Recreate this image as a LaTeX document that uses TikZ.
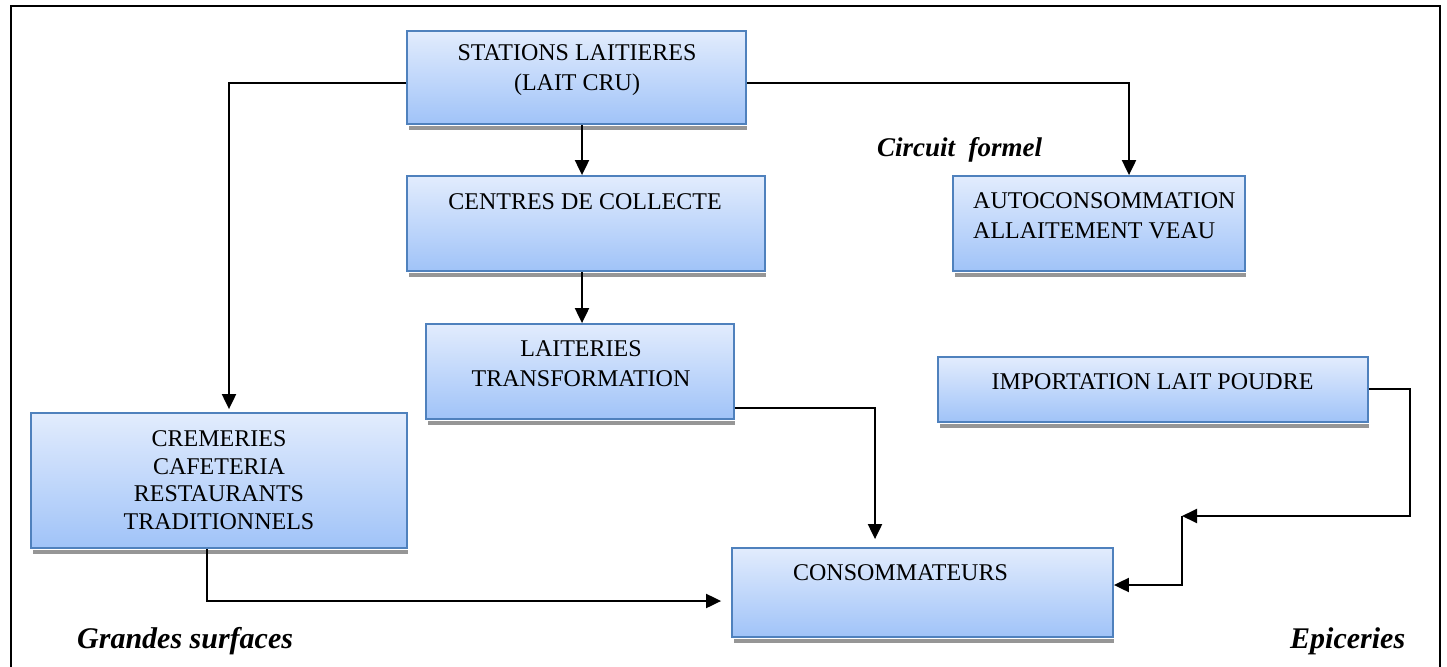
\documentclass[tikz,border=0pt]{standalone}
\usepackage{fontspec}
\setmainfont{Liberation Serif}
\usetikzlibrary{arrows.meta}
\definecolor{boxtop}{RGB}{226,236,253}
\definecolor{boxbot}{RGB}{160,195,248}
\definecolor{boxline}{RGB}{79,129,189}
\definecolor{shadowcol}{RGB}{150,150,150}
\tikzset{
  box/.style={draw=boxline, line width=1.8pt, top color=boxtop, bottom color=boxbot, rectangle, inner sep=0pt},
  txt/.style={inner sep=0pt, font=\fontsize{24}{30}\selectfont, align=center},
  lbl/.style={inner sep=0pt, font=\fontsize{29}{30}\selectfont\bfseries\itshape, anchor=base west},
  conn/.style={line width=2pt, -{Triangle[length=15pt,width=14pt]}},
  shad/.style={fill=shadowcol}
}
\begin{document}
\begin{tikzpicture}[x=1pt,y=-1pt]
\useasboundingbox (0,0) rectangle (1447,666);
% frame
\draw[line width=2pt] (11,668) -- (11,6) -- (1440,6) -- (1440,668);
% boxes
\node[box, minimum width=339pt, minimum height=93pt] (st) at (576.5,77.5) {};
\node[box, minimum width=358pt, minimum height=95pt] (ce) at (586,223.5) {};
\node[box, minimum width=308pt, minimum height=95pt] (la) at (580,371.5) {};
\node[box, minimum width=292pt, minimum height=95pt] (au) at (1099,223.5) {};
\node[box, minimum width=430pt, minimum height=65pt] (im) at (1153,389.5) {};
\node[box, minimum width=376pt, minimum height=135pt] (cr) at (219,480.5) {};
\node[box, minimum width=381pt, minimum height=89pt] (co) at (922.5,592.5) {};
% shadows
\foreach \b in {st,ce,la,au,im,cr,co}{
  \fill[shad] ([xshift=3pt,yshift=-1pt]\b.south west) rectangle ([yshift=-5pt]\b.south east);
}
% texts
\node[txt] (st-t) at (577,70) {STATIONS LAITIERES\\(LAIT CRU)};
\node[txt] (ce-t) at (585,202) {CENTRES DE COLLECTE};
\node[txt] (la-t) at (581,363.5) {LAITERIES\\TRANSFORMATION};
\node[txt, align=left, anchor=west] (au-t) at (973,215.5) {AUTOCONSOMMATION\\ALLAITEMENT VEAU};
\node[txt] (im-t) at (1152.5,382) {IMPORTATION LAIT POUDRE};
\node[txt, font=\fontsize{24}{27.5}\selectfont] (cr-t) at (219,480) {CREMERIES\\CAFETERIA\\RESTAURANTS\\TRADITIONNELS};
\node[txt] (co-t) at (900.5,573) {CONSOMMATEURS};
% labels
\node[lbl, font=\fontsize{27}{30}\selectfont\bfseries\itshape] (cf) at (877,157) {Circuit\ \ formel};
\node[lbl, font=\fontsize{30}{30}\selectfont\bfseries\itshape] (gs) at (77,648) {Grandes surfaces};
\node[lbl, font=\fontsize{30}{30}\selectfont\bfseries\itshape] (ep) at (1290,648) {Epiceries};
% connectors
\draw[conn] (st.west |- 0,83) -| ([yshift=3pt]cr.north -| 229,0);
\draw[conn] (st.south -| 582,0) -- (ce.north -| 582,0);
\draw[conn] (st.east |- 0,83) -| (au.north -| 1129,0);
\draw[conn] (ce.south -| 582,0) -- (la.north -| 582,0);
\draw[conn] (la.east |- 0,408) -| ([yshift=8pt]co.north -| 875,0);
\draw[conn] (cr.south -| 207,0) |- ([xshift=-10pt]co.west |- 0,601);
\coordinate (jn) at (1182,516);
\draw[conn] (im.east |- 0,389) -- (1410,389) |- (jn);
\draw[conn] (jn) |- (co.east |- 0,585);
\end{tikzpicture}
\end{document}
